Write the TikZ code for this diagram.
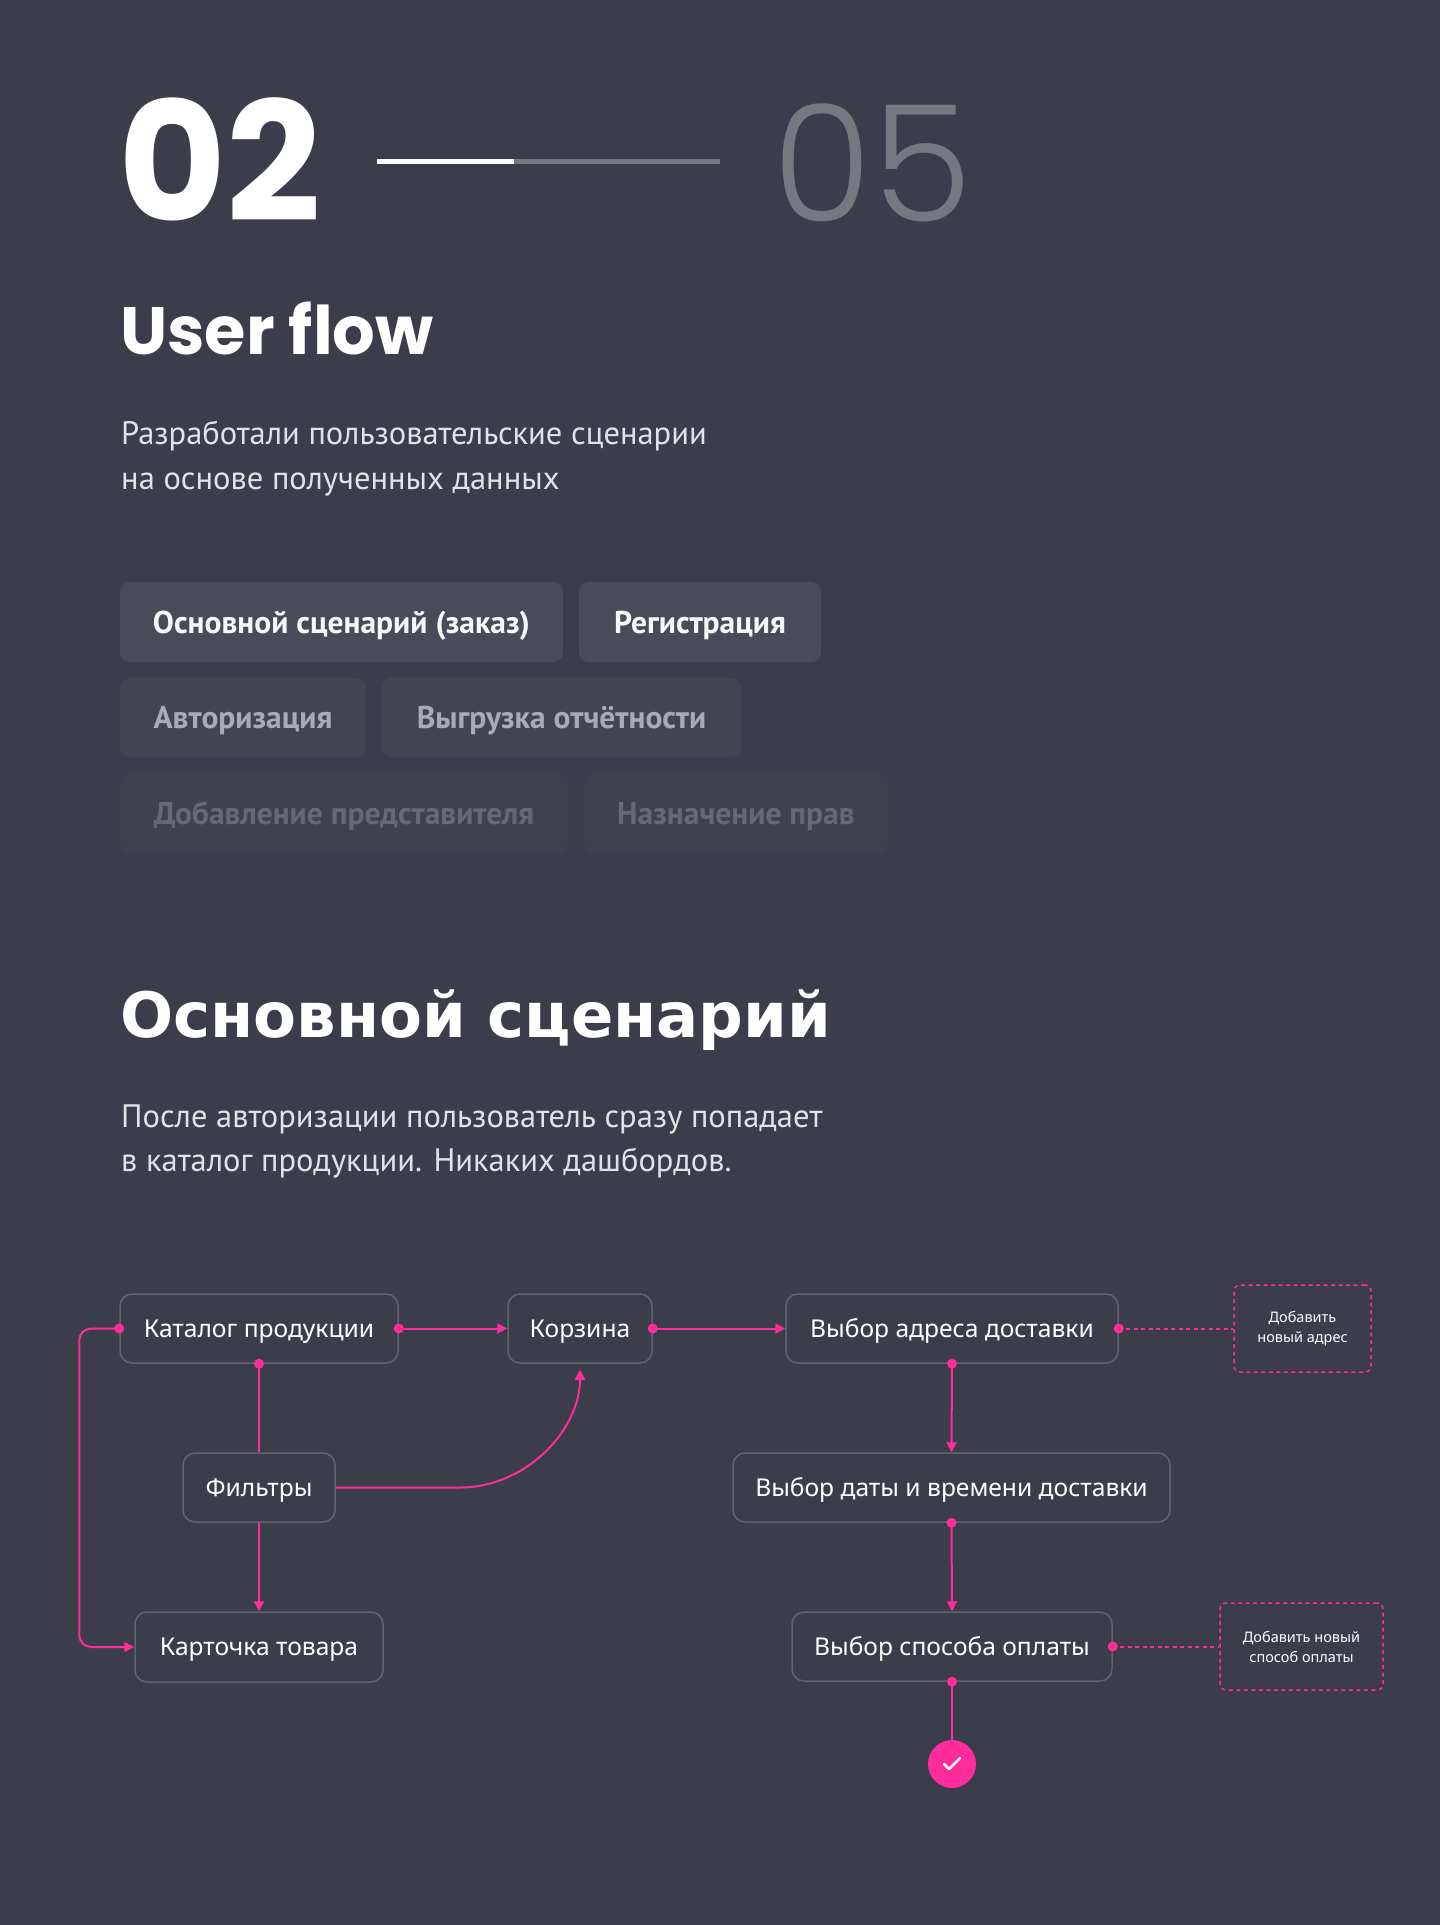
\documentclass[tikz,border=0pt]{standalone}
\usepackage{fontspec}
\usetikzlibrary{arrows.meta,calc}
\newfontfamily\popf{Poppins}
\newfontfamily\poplight{Poppins Light}
\newfontfamily\headf{DejaVu Sans}
\newfontfamily\bodyf{PT Sans}
\newfontfamily\nodef{Noto Sans}
\definecolor{bg}{HTML}{3C3D4A}
\definecolor{tabA}{HTML}{4A4B59}
\definecolor{tabB}{HTML}{434450}
\definecolor{tabC}{HTML}{40414D}
\definecolor{txtA}{HTML}{F7F7F9}
\definecolor{txtB}{HTML}{A9AAB4}
\definecolor{txtC}{HTML}{676873}
\definecolor{dimgrey}{HTML}{77777F}
\definecolor{bodytxt}{HTML}{E2E2E6}
\definecolor{nodeborder}{HTML}{62636E}
\definecolor{pinkc}{HTML}{FF2D9B}
\tikzset{
  tab/.style={rounded corners=10pt, inner sep=0pt, text height=22pt, text depth=0pt,
    font=\bodyf\bfseries\fontsize{31.5}{36}\selectfont},
  flow/.style={draw=nodeborder, line width=1.5pt, rounded corners=12pt, fill=bg, text=white, inner sep=0pt,
    text height=17.6pt, text depth=0pt, font=\nodef\fontsize{24.6}{28}\selectfont},
  addbox/.style={draw=pinkc, dashed, dash pattern=on 4pt off 3.5pt, line width=1.5pt, rounded corners=6pt, text=white,
    inner sep=0pt, align=center, font=\nodef\fontsize{14.5}{20}\selectfont},
  pl/.style={draw=pinkc, line width=2pt},
  pld/.style={draw=pinkc, line width=2pt, dash pattern=on 4pt off 3.5pt},
  tip/.style={-{Triangle[length=10pt,width=10pt]}},
  bodytext/.style={anchor=base west, inner sep=0pt, text=bodytxt, font=\bodyf\fontsize{32.5}{38}\selectfont}
}
\begin{document}
\begin{tikzpicture}[x=1pt,y=-1pt]
\fill[bg] (0,0) rectangle (1440,1925);
\useasboundingbox (0,0) rectangle (1440,1925);
% header
\node[anchor=base west, inner sep=0pt, text=white, font=\popf\bfseries\fontsize{166}{170}\selectfont] (num) at (118,221) {02};
\node[anchor=base west, inner sep=0pt, text=dimgrey, font=\poplight\fontsize{162}{170}\selectfont] (tot) at (772,221) {05};
\coordinate (pa) at (377,161);
\coordinate (pb) at (514,161);
\coordinate (pc) at (720,161);
\draw[dimgrey, line width=5pt] (pa) -- (pc);
\draw[white, line width=5pt] (pa) -- (pb);
\node[anchor=base west, inner sep=0pt, text=white, font=\popf\bfseries\fontsize{67}{76}\selectfont] (title) at (120,354) {User flow};
\node[bodytext] (d1) at (121,444) {Разработали пользовательские сценарии};
\node[bodytext] (d2) at (121,489) {на основе полученных данных};
% tabs
\node[tab, fill=tabA, text=txtA, minimum width=443pt, minimum height=80pt] (t1) at (341.5,622) {Основной сценарий (заказ)};
\node[tab, fill=tabA, text=txtA, minimum width=242pt, minimum height=80pt] (t2) at (700,622) {Регистрация};
\node[tab, fill=tabB, text=txtB, minimum width=246pt, minimum height=79pt] (t3) at (243,717.5) {Авторизация};
\node[tab, fill=tabB, text=txtB, minimum width=359pt, minimum height=79pt] (t4) at (561.5,717.5) {Выгрузка отчётности};
\node[tab, fill=tabC, text=txtC, minimum width=448pt, minimum height=80pt] (t5) at (344,813) {Добавление представителя};
\node[tab, fill=tabC, text=txtC, minimum width=304pt, minimum height=80pt] (t6) at (736,813) {Назначение прав};
% section
\node[anchor=base west, inner sep=0pt, text=white, font=\headf\bfseries\fontsize{62.5}{70}\selectfont] (h2) at (120,1037) {Основной сценарий};
\node[bodytext] (e1) at (121,1127) {После авторизации пользователь сразу попадает};
\node[bodytext] (e2) at (121,1171) {в каталог продукции. Никаких дашбордов.};
% flow nodes
\node[flow, minimum width=278pt, minimum height=69pt] (cat) at (259,1328.5) {Каталог продукции};
\node[flow, minimum width=144pt, minimum height=69pt] (korz) at (580,1328.5) {Корзина};
\node[flow, minimum width=332pt, minimum height=69pt] (addr) at (952,1328.5) {Выбор адреса доставки};
\node[addbox, minimum width=137pt, minimum height=87pt] (addnew) at (1302.5,1328.5) {Добавить\\новый адрес};
\node[flow, minimum width=152pt, minimum height=69pt] (filt) at (259,1487.5) {Фильтры};
\node[flow, minimum width=437pt, minimum height=69pt] (date) at (951.5,1487.5) {Выбор даты и времени доставки};
\node[flow, minimum width=248pt, minimum height=70pt] (card) at (259,1647) {Карточка товара};
\node[flow, minimum width=320pt, minimum height=69pt] (pay) at (952,1646.5) {Выбор способа оплаты};
\node[addbox, minimum width=163pt, minimum height=87pt] (paynew) at (1301.5,1646.5) {Добавить новый\\способ оплаты};
\node[circle, fill=pinkc, minimum size=48pt, inner sep=0pt] (done) at (952,1764) {};
\draw[white, line width=2.5pt, line cap=round, line join=round] ($(done.center)+(-8,0)$) -- ++(5,5) -- ++(11,-11);
% connectors
\draw[pl, tip] (cat.east) -- (korz.west);
\draw[pl, tip] (korz.east) -- (addr.west);
\draw[pl] (cat.south) -- (filt.north);
\draw[pl, tip] (filt.south) -- (card.north);
\draw[pl, tip, rounded corners=12pt] (cat.west) -- ++(-40,0) |- (card.west);
\coordinate (fc) at (460,1487.5);
\draw[pl, tip, shorten >=6pt] (filt.east) -- (fc) .. controls (526,1487.5) and (580,1430) .. (korz.south);
\draw[pl, tip] (addr.south) -- (date.north);
\draw[pl, tip] (date.south) -- (pay.north);
\draw[pl] (pay.south) -- (done.north);
\draw[pld] (addr.east) -- (addnew.west);
\draw[pld] (pay.east) -- (paynew.west);
% dots
\foreach \p in {cat.east, cat.south, cat.west, korz.east, addr.east, addr.south, date.south, pay.south, pay.east}
  \fill[pinkc] (\p) circle (5pt);
\end{tikzpicture}
\end{document}
